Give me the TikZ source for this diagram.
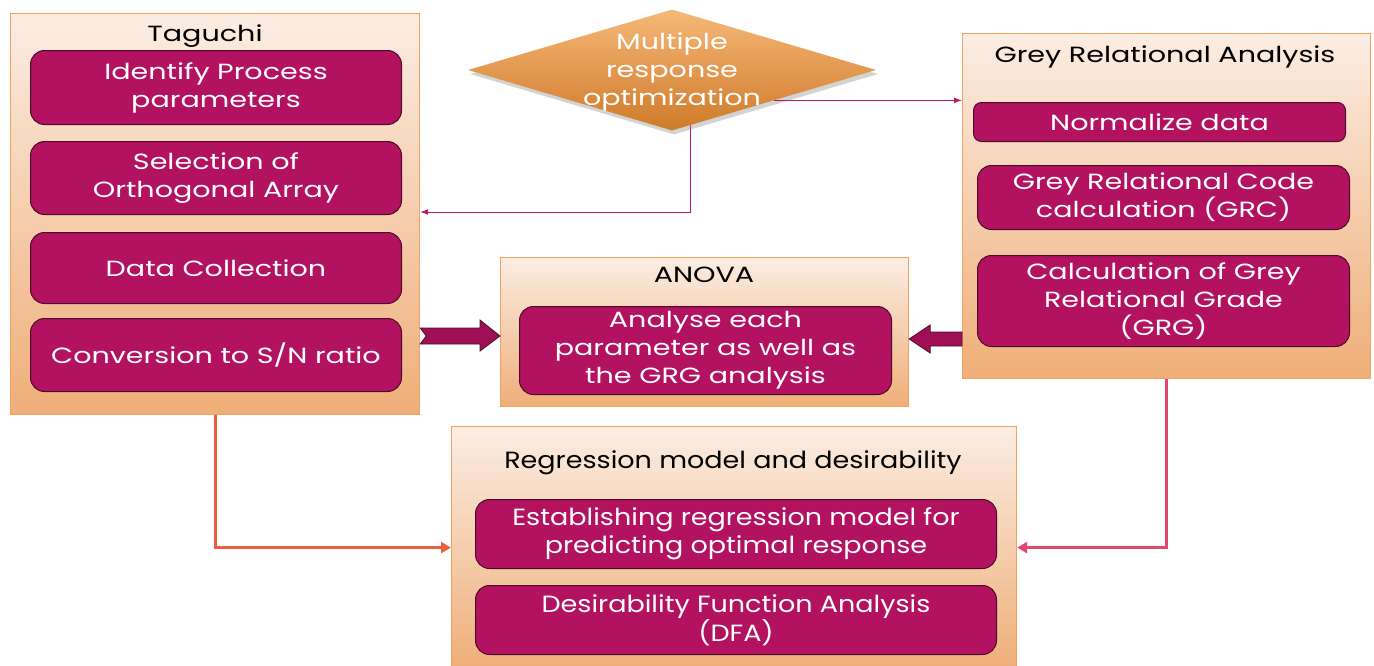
\documentclass[tikz,border=0pt]{standalone}
\usepackage{fontspec}
\setmainfont{Poppins}[FakeStretch=1.3]
\newfontfamily\narrowfont[FakeStretch=1.15]{Poppins}
\usetikzlibrary{shapes.geometric,shadows,calc,arrows.meta,shadings,backgrounds}

\definecolor{plum}{HTML}{B31260}
\definecolor{plumedge}{HTML}{4A0B28}
\definecolor{panelTop}{HTML}{FBEDE3}
\definecolor{panelBot}{HTML}{EFAE78}
\definecolor{panelEdge}{HTML}{F2A25A}
\definecolor{diaTop}{HTML}{F6B878}
\definecolor{diaBot}{HTML}{CF7A2A}
\definecolor{linkA}{HTML}{E8603C}
\definecolor{linkB}{HTML}{E3466F}
\definecolor{linkC}{HTML}{B5196A}
\definecolor{blockArrow}{HTML}{9E0F55}

\newcommand\stagefont{\fontsize{22}{28}\selectfont}
\newcommand\narrowstagefont{\narrowfont\fontsize{23.5}{28}\selectfont}

\tikzset{
  panel/.style={draw=panelEdge, line width=1.2pt, top color=panelTop,
    bottom color=panelBot, anchor=north west, inner sep=0pt},
  stage/.style={draw=plumedge, line width=1pt, fill=plum, rounded corners=14pt,
    anchor=north west, inner sep=0pt, text=white, align=center, font=\stagefont},
  heading/.style={text=black, font=\stagefont, inner sep=0pt},
  thinlink/.style={draw=linkC, line width=1pt, -{Latex[length=8pt,width=6pt]}},
  thicklink/.style={line width=3pt, -{Triangle[length=10pt,width=11pt]}},
  blockarrow/.style={fill=blockArrow, draw=plumedge, line width=0.8pt, line join=miter},
}

\begin{document}
\begin{tikzpicture}[x=1pt,y=-1pt]
\useasboundingbox (0,0) rectangle (1374,665);

% ---- Taguchi panel ----
\node[panel, minimum width=409pt, minimum height=401pt] (tag) at (10,13) {};
\node[heading] (tagT) at (205,36) {Taguchi};
\node[stage, minimum width=371pt, minimum height=74pt] (t1) at (30,50) {Identify Process\\parameters};
\node[stage, minimum width=371pt, minimum height=73pt] (t2) at (30,141) {Selection of\\Orthogonal Array};
\node[stage, minimum width=371pt, minimum height=71pt] (t3) at (30,232) {Data Collection};
\node[stage, minimum width=371pt, minimum height=73pt] (t4) at (30,318) {Conversion to S/N ratio};

% ---- Grey Relational Analysis panel ----
\node[panel, minimum width=408pt, minimum height=345pt] (gra) at (962,33) {};
\node[heading] (graT) at (1165,57) {Grey Relational Analysis};
\node[stage, minimum width=372pt, minimum height=39pt, rounded corners=8pt] (g1) at (973,102) {Normalize data};
\node[stage, minimum width=372pt, minimum height=64pt] (g2) at (977,165) {Grey Relational Code\\calculation (GRC)};
\node[stage, minimum width=372pt, minimum height=91pt] (g3) at (977,255) {Calculation of Grey\\Relational Grade\\(GRG)};

% ---- ANOVA panel ----
\node[panel, minimum width=408pt, minimum height=149pt] (anova) at (500,257) {};
\node[heading] (anovaT) at (704,275) {ANOVA};
\node[stage, minimum width=372pt, minimum height=88pt] (a1) at (519,306) {Analyse each\\parameter as well as\\the GRG analysis};

% ---- Regression panel ----
\node[panel, minimum width=565pt, minimum height=242pt] (reg) at (451,426) {};
\node[heading, font=\narrowstagefont] (regT) at (733,463) {Regression model and desirability};
\node[stage, font=\narrowstagefont, minimum width=521pt, minimum height=69pt] (r1) at (475,499) {Establishing regression model for\\predicting optimal response};
\node[stage, font=\narrowstagefont, minimum width=521pt, minimum height=69pt] (r2) at (475,585) {Desirability Function Analysis\\(DFA)};

% ---- decision diamond ----
\node[diamond, minimum width=408pt, minimum height=121pt, inner sep=0pt,
      top color=diaTop, bottom color=diaBot,
      drop shadow={opacity=0.35, shadow xshift=2pt, shadow yshift=-4pt}] (dia) at (672,70) {};
\node[text=white, font=\stagefont, align=center, inner sep=0pt] (diaT) at (672,72) {Multiple\\response\\optimization};

% ---- connectors ----
\begin{pgfonlayer}{background}
  \coordinate (drop) at (690,212);
  \draw[thinlink] (dia.center -| drop) -- (drop) -- (drop -| tag.east);
\end{pgfonlayer}
\draw[thinlink] (dia.south east) -- (dia.south east -| gra.west);

\draw[thicklink, draw=linkA] (tag.south) |- (reg.west);
\draw[thicklink, draw=linkB] (gra.south) |- (reg.east);

% block arrow: Taguchi -> ANOVA (notched tail)
\coordinate (ba) at (tag.east |- 0,336);
\coordinate (bt) at (anova.west |- ba);
\path[blockarrow] ($(ba)+(0,-8)$) -- ($(bt)+(-20,-8)$) -- ($(bt)+(-20,-16)$) -- (bt)
  -- ($(bt)+(-20,15)$) -- ($(bt)+(-20,8)$) -- ($(ba)+(0,8)$) -- ($(ba)+(6,0)$) -- cycle;

% block arrow: Grey Relational Analysis -> ANOVA
\coordinate (ca) at (gra.west |- 0,339);
\coordinate (ct) at (anova.east |- ca);
\path[blockarrow] ($(ca)+(0,-7)$) -- ($(ct)+(21,-7)$) -- ($(ct)+(21,-14)$) -- (ct)
  -- ($(ct)+(21,14)$) -- ($(ct)+(21,7)$) -- ($(ca)+(0,7)$) -- cycle;
\end{tikzpicture}
\end{document}
